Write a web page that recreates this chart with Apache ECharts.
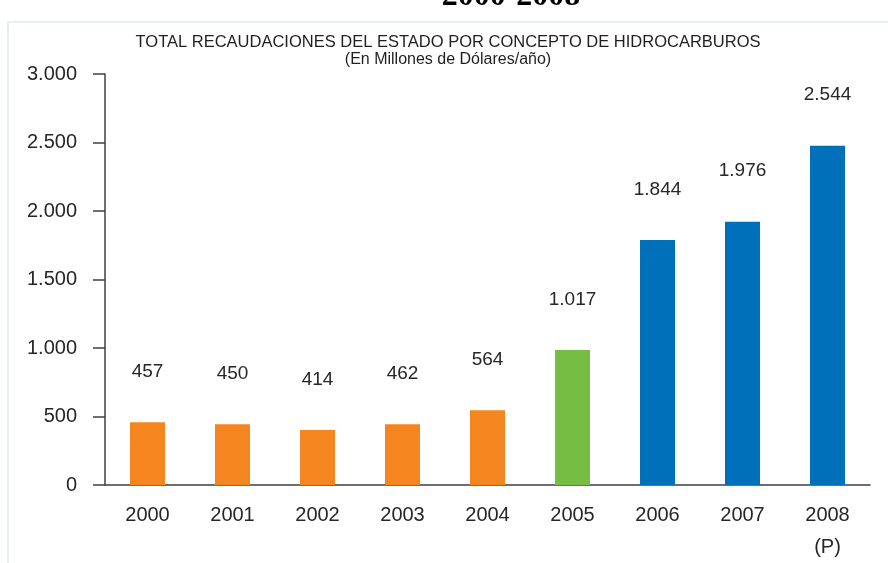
<!DOCTYPE html>
<html>
<head>
<meta charset="utf-8">
<title>Recaudaciones hidrocarburos</title>
<script src="https://cdn.jsdelivr.net/npm/echarts@6/dist/echarts.min.js"></script>
<style>
  html, body { margin: 0; padding: 0; background: #fff; }
  #main { width: 888px; height: 563px; }
</style>
</head>
<body>
<div id="main"></div>
<script>
// datos
var anios = ['2000', '2001', '2002', '2003', '2004', '2005', '2006', '2007', '2008\n(P)']
// altura de las barras tal como aparecen dibujadas
var alturas = [458, 443, 401, 443, 545, 985, 1788, 1922, 2477]
// etiquetas escritas sobre cada barra
var etiquetas = ['457', '450', '414', '462', '564', '1.017', '1.844', '1.976', '2.544']
var colores = ['#f5861f', '#f5861f', '#f5861f', '#f5861f', '#f5861f', '#76bd43', '#0070ba', '#0070ba', '#0070ba']
var ticksY = [0, 500, 1000, 1500, 2000, 2500, 3000]

function formatoMiles(v) {
    return String(v).replace(/\B(?=(\d{3})+(?!\d))/g, '.')
}

var datos = []
for (var i = 0; i < alturas.length; i++) {
    datos.push({
        value: alturas[i],
        itemStyle: { color: colores[i] }
    })
}

var mCharts = echarts.init(document.getElementById('main'))
var option = {
    backgroundColor: '#fff',
    animation: false,
    graphic: [
        {
            type: 'rect',
            shape: { x: 8, y: 22, width: 900, height: 600 },
            style: { fill: 'none', stroke: '#e8ecf4', lineWidth: 2 }
        },
        {
            type: 'text',
            x: 511, y: -3,
            style: {
                text: '2000-2008',
                font: 'bold 32px "Liberation Serif", "DejaVu Serif", serif',
                fill: '#000',
                align: 'center',
                verticalAlign: 'middle'
            }
        },
        {
            type: 'text',
            x: 448, y: 42,
            style: {
                text: 'TOTAL RECAUDACIONES DEL ESTADO POR CONCEPTO DE HIDROCARBUROS',
                font: '16.5px "Liberation Sans", Arial, sans-serif',
                fill: '#1f1f1f',
                align: 'center',
                verticalAlign: 'middle'
            }
        },
        {
            type: 'text',
            x: 448, y: 60,
            style: {
                text: '(En Millones de Dólares/año)',
                font: '16px "Liberation Sans", Arial, sans-serif',
                fill: '#1f1f1f',
                align: 'center',
                verticalAlign: 'middle'
            }
        }
    ],
    grid: { left: 105, right: 18, top: 74, bottom: 78 },
    xAxis: {
        type: 'category',
        data: anios,
        axisLine: { lineStyle: { color: '#404040', width: 1.5 } },
        axisTick: { show: false },
        axisLabel: {
            color: '#262626',
            fontSize: 20,
            fontFamily: 'Liberation Sans',
            lineHeight: 32,
            margin: 14,
            interval: 0
        }
    },
    yAxis: {
        type: 'value',
        min: ticksY[0],
        max: ticksY[ticksY.length - 1],
        interval: 500,
        splitLine: { show: false },
        axisLine: { show: true, lineStyle: { color: '#404040', width: 1.5 } },
        axisTick: { show: true, length: 12, lineStyle: { color: '#404040', width: 1.5 } },
        axisLabel: {
            color: '#262626',
            fontSize: 20,
            fontFamily: 'Liberation Sans',
            margin: 28,
            formatter: function (v) { return formatoMiles(v) }
        }
    },
    series: [
        {
            type: 'bar',
            data: datos,
            barWidth: 35,
            label: {
                show: true,
                position: 'top',
                distance: 41,
                color: '#262626',
                fontSize: 19,
                fontFamily: 'Liberation Sans',
                formatter: function (p) { return etiquetas[p.dataIndex] }
            }
        }
    ]
}
mCharts.setOption(option)
</script>
</body>
</html>
